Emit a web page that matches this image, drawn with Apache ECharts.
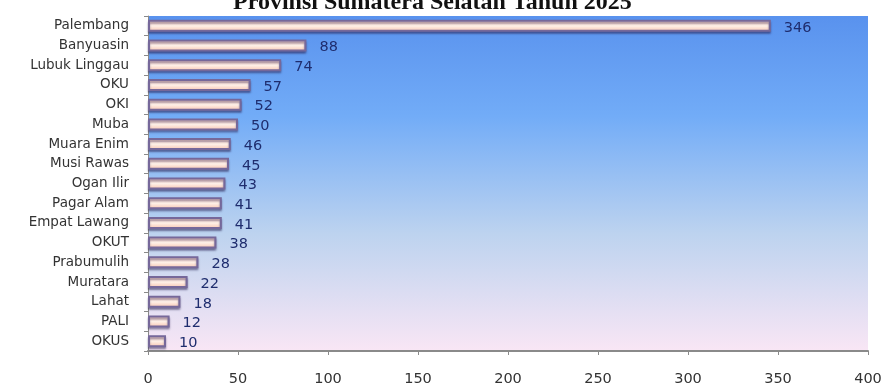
<!DOCTYPE html>
<html>
<head>
<meta charset="utf-8">
<script src="https://cdn.jsdelivr.net/npm/echarts@6/dist/echarts.min.js"></script>
<style>html,body{margin:0;padding:0;background:#fff}#c{width:888px;height:387px}</style>
</head>
<body>
<div id="c"></div>
<script>
var titleText = 'Provinsi Sumatera Selatan Tahun 2025';
var categories = ['Palembang','Banyuasin','Lubuk Linggau','OKU','OKI','Muba','Muara Enim','Musi Rawas','Ogan Ilir','Pagar Alam','Empat Lawang','OKUT','Prabumulih','Muratara','Lahat','PALI','OKUS'];
var values = [346,88,74,57,52,50,46,45,43,41,41,38,28,22,18,12,10];
var xTicks = [0,50,100,150,200,250,300,350,400];

var chart = echarts.init(document.getElementById('c'));
chart.setOption({
  animation: false,
  title: {
    text: titleText, left: 228, top: -14,
    textStyle: {fontFamily: 'Liberation Serif', fontWeight: 'bold', fontSize: 24, color: '#111'}
  },
  grid: {
    left: 148, right: 20, top: 16, bottom: 36, show: true, borderWidth: 0,
    backgroundColor: {type: 'linear', x: 0, y: 0, x2: 0, y2: 1, colorStops: [
      {offset: 0, color: '#5992ee'},
      {offset: 0.3, color: '#72acf7'},
      {offset: 0.65, color: '#bdd3ef'},
      {offset: 1, color: '#f9e6f5'}
    ]}
  },
  xAxis: {
    type: 'value', min: xTicks[0], max: xTicks[xTicks.length-1], interval: 50,
    axisLine: {show: true, lineStyle: {color: '#8a8a8a', width: 2}},
    axisTick: {show: true, length: 4, lineStyle: {color: '#8a8a8a'}},
    splitLine: {show: false},
    axisLabel: {margin: 21, fontFamily: 'DejaVu Sans', fontSize: 14.5, color: '#333'}
  },
  yAxis: {
    type: 'category', data: categories, inverse: true,
    axisLine: {show: true, lineStyle: {color: '#8a8a8a', width: 1}},
    axisTick: {show: true, length: 4, lineStyle: {color: '#8a8a8a'}},
    axisLabel: {margin: 19, fontFamily: 'DejaVu Sans', fontSize: 13.5, color: '#333'}
  },
  series: [{
    type: 'bar', data: values, barWidth: 12,
    itemStyle: {
      color: {type: 'linear', x: 0, y: 0, x2: 0, y2: 1, colorStops: [
        {offset: 0, color: '#f7c6bb'},
        {offset: 0.5, color: '#fff1e8'},
        {offset: 1, color: '#f6c2ae'}
      ]},
      borderColor: '#76689a', borderWidth: 2,
      shadowColor: 'rgba(40,30,80,0.45)', shadowOffsetY: 2, shadowBlur: 2
    },
    label: {show: true, position: 'right', distance: 13, offset: [0, 2], fontFamily: 'DejaVu Sans', fontSize: 14.5, color: '#1f2d6e'}
  }]
});
</script>
</body>
</html>
